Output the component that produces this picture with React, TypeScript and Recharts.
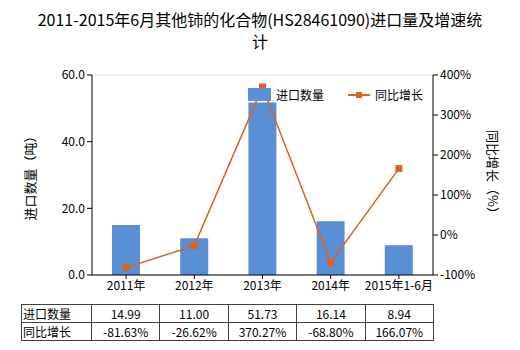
import React from 'react';
import { ComposedChart, Bar, Line, XAxis, YAxis, CartesianGrid, Label } from 'recharts';

const categories = ['2011年', '2012年', '2013年', '2014年', '2015年1-6月'];
const importQty = [14.99, 11.0, 51.73, 16.14, 8.94];
const yoyGrowth = [-81.63, -26.62, 370.27, -68.8, 166.07];
const leftTicks = [0, 20, 40, 60];
const rightTicks = [-100, 0, 100, 200, 300, 400];

const BAR_COLOR = '#5b8fd5';
const LINE_COLOR = '#d9641f';
const FONT = '"Microsoft YaHei", "Noto Sans CJK SC", sans-serif';

const chartData = categories.map((name, i) => ({
    name,
    qty: importQty[i],
    yoy: yoyGrowth[i],
}));

const SquareDot = (props: any) => {
    const { cx, cy } = props;
    if (cx == null || cy == null) return null;
    return <rect x={cx - 3.5} y={cy - 3.5} width={7} height={7} fill={LINE_COLOR} />;
};

const cellStyle: React.CSSProperties = {
    border: '1px solid #404040',
    padding: 0,
    height: 17,
    fontSize: 12,
    textAlign: 'center',
    fontFamily: FONT,
};

export default function App() {
    return (
        <div style={{ position: 'absolute', left: 0, top: 0, width: 520, height: 350, background: '#fff', fontFamily: FONT }}>
            <div style={{ position: 'absolute', top: 8, left: 0, width: 520, textAlign: 'center', fontSize: 16, lineHeight: '22px', color: '#000', fontWeight: 400 }}>
                2011-2015年6月其他铈的化合物(HS28461090)进口量及增速统
                <br />计
            </div>
            <ComposedChart
                width={520}
                height={305}
                data={chartData}
                margin={{ top: 75, right: 27, bottom: 0, left: 32 }}
                style={{ position: 'absolute', left: 0, top: 0 }}
            >
                <CartesianGrid vertical={false} stroke="#e4e4e4" />
                <XAxis
                    dataKey="name"
                    height={30}
                    tick={{ fontSize: 12, fill: '#000', fontFamily: FONT }}
                    tickLine={{ stroke: '#000' }}
                    tickSize={4}
                    axisLine={{ stroke: '#000' }}
                />
                <YAxis
                    yAxisId="left"
                    domain={[0, 60]}
                    ticks={leftTicks}
                    width={60}
                    tickFormatter={(v: number) => v.toFixed(1)}
                    tick={{ fontSize: 12, fill: '#000', fontFamily: FONT }}
                    tickLine={{ stroke: '#000' }}
                    tickSize={5}
                    axisLine={{ stroke: '#000' }}
                >
                    <Label
                        value="进口数量（吨）"
                        angle={-90}
                        position="insideLeft"
                        offset={-2}
                        style={{ fontSize: 13, fill: '#000', fontFamily: FONT, textAnchor: 'middle' }}
                    />
                </YAxis>
                <YAxis
                    yAxisId="right"
                    orientation="right"
                    domain={[-100, 400]}
                    ticks={rightTicks}
                    width={60}
                    tickFormatter={(v: number) => `${v}%`}
                    tick={{ fontSize: 12, fill: '#000', fontFamily: FONT }}
                    tickLine={{ stroke: '#000' }}
                    tickSize={5}
                    axisLine={{ stroke: '#000' }}
                >
                    <Label
                        value="同比增长（%）"
                        angle={90}
                        position="insideRight"
                        offset={0}
                        style={{ fontSize: 13, fill: '#000', fontFamily: FONT, textAnchor: 'middle' }}
                    />
                </YAxis>
                <Bar yAxisId="left" dataKey="qty" name="进口数量" fill={BAR_COLOR} barSize={28} isAnimationActive={false} />
                <Line
                    yAxisId="right"
                    dataKey="yoy"
                    name="同比增长"
                    stroke={LINE_COLOR}
                    strokeWidth={1.5}
                    type="linear"
                    dot={<SquareDot />}
                    activeDot={false}
                    isAnimationActive={false}
                />
            </ComposedChart>
            <div
                style={{
                    position: 'absolute',
                    top: 86,
                    left: 248,
                    display: 'flex',
                    alignItems: 'center',
                    fontSize: 12,
                    color: '#000',
                    background: 'rgba(255,255,255,0)',
                }}
            >
                <span style={{ display: 'inline-block', width: 23, height: 13, background: BAR_COLOR, marginRight: 5 }} />
                <span style={{ marginRight: 24 }}>进口数量</span>
                <svg width={22} height={10} style={{ marginRight: 5 }}>
                    <line x1={0} y1={5} x2={22} y2={5} stroke={LINE_COLOR} strokeWidth={2} />
                    <rect x={8} y={2} width={6} height={6} fill={LINE_COLOR} />
                </svg>
                <span>同比增长</span>
            </div>
            <table
                style={{
                    position: 'absolute',
                    left: 21,
                    top: 304,
                    borderCollapse: 'collapse',
                    tableLayout: 'fixed',
                    width: 412,
                    color: '#000',
                }}
            >
                <colgroup>
                    <col style={{ width: 70 }} />
                    {categories.map(c => (
                        <col key={c} style={{ width: 68.4 }} />
                    ))}
                </colgroup>
                <tbody>
                    <tr>
                        <td style={{ ...cellStyle, textAlign: 'left', paddingLeft: 1 }}>进口数量</td>
                        {importQty.map((v, i) => (
                            <td key={i} style={cellStyle}>{v.toFixed(2)}</td>
                        ))}
                    </tr>
                    <tr>
                        <td style={{ ...cellStyle, textAlign: 'left', paddingLeft: 1 }}>同比增长</td>
                        {yoyGrowth.map((v, i) => (
                            <td key={i} style={cellStyle}>{v.toFixed(2)}%</td>
                        ))}
                    </tr>
                </tbody>
            </table>
        </div>
    );
}
